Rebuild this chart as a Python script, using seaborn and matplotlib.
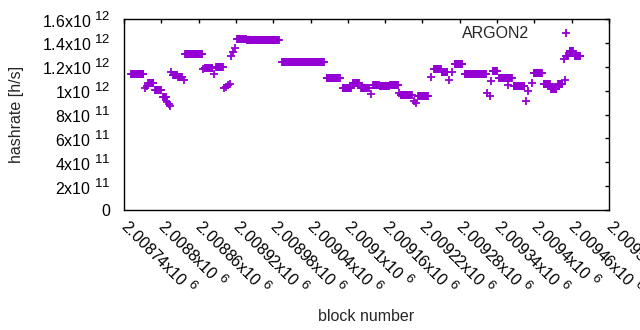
import numpy as np
import pandas as pd
import seaborn as sns
import matplotlib.pyplot as plt
import matplotlib._mathtext as mathtext_internals

# runs of blocks that share one hashrate estimate (start, end, value in h/s)
run_start = [2008752, 2008773, 2008777, 2008779, 2008790, 2008803, 2008809, 2008812,
             2008814, 2008816, 2008819, 2008827, 2008837, 2008838, 2008867, 2008870,
             2008885, 2008888, 2008901, 2008904, 2008907, 2008910, 2008912, 2008915,
             2008919, 2008922, 2008938, 2008994, 2009066, 2009092, 2009108, 2009121,
             2009138, 2009141, 2009152, 2009168, 2009182, 2009185, 2009206, 2009210,
             2009213, 2009234, 2009239, 2009251, 2009263, 2009267, 2009272, 2009288,
             2009324, 2009329, 2009331, 2009333, 2009343, 2009358, 2009367, 2009386,
             2009390, 2009396, 2009399, 2009415, 2009427, 2009438, 2009449, 2009448,
             2009451, 2009457, 2009465]
run_end = [2008771, 2008773, 2008777, 2008787, 2008799, 2008807, 2008809, 2008812,
           2008814, 2008816, 2008825, 2008833, 2008837, 2008866, 2008867, 2008882,
           2008885, 2008899, 2008901, 2008904, 2008907, 2008910, 2008912, 2008915,
           2008919, 2008936, 2008989, 2009061, 2009087, 2009105, 2009118, 2009134,
           2009138, 2009150, 2009166, 2009180, 2009182, 2009203, 2009206, 2009210,
           2009229, 2009234, 2009250, 2009260, 2009263, 2009267, 2009284, 2009322,
           2009324, 2009329, 2009331, 2009340, 2009364, 2009358, 2009384, 2009386,
           2009390, 2009396, 2009412, 2009425, 2009435, 2009445, 2009449, 2009448,
           2009454, 2009462, 2009474]
run_value = [1.140e12, 1.026e12, 1.039e12, 1.060e12, 1.003e12, 0.944e12, 0.905e12, 0.888e12,
             0.871e12, 1.156e12, 1.135e12, 1.110e12, 1.085e12, 1.304e12, 1.177e12, 1.187e12,
             1.139e12, 1.194e12, 1.018e12, 1.030e12, 1.043e12, 1.055e12, 1.290e12, 1.324e12,
             1.357e12, 1.430e12, 1.422e12, 1.237e12, 1.103e12, 1.026e12, 1.064e12, 1.018e12,
             0.970e12, 1.047e12, 1.035e12, 1.051e12, 0.980e12, 0.963e12, 0.909e12, 0.896e12,
             0.958e12, 1.114e12, 1.177e12, 1.156e12, 1.093e12, 1.160e12, 1.220e12, 1.143e12,
             0.984e12, 0.955e12, 1.081e12, 1.162e12, 1.106e12, 1.043e12, 1.035e12, 0.909e12,
             0.993e12, 1.064e12, 1.148e12, 1.056e12, 1.014e12, 1.056e12, 1.089e12, 1.269e12,
             1.286e12, 1.328e12, 1.294e12]

xtick_values = [2008740, 2008800, 2008860, 2008920, 2008980, 2009040, 2009100,
                2009160, 2009220, 2009280, 2009340, 2009400, 2009460, 2009520]
xtick_labels = ["2.00874x10 $^{6}$", "2.0088x10 $^{6}$", "2.00886x10 $^{6}$",
                "2.00892x10 $^{6}$", "2.00898x10 $^{6}$", "2.00904x10 $^{6}$",
                "2.0091x10 $^{6}$", "2.00916x10 $^{6}$", "2.00922x10 $^{6}$",
                "2.00928x10 $^{6}$", "2.00934x10 $^{6}$", "2.0094x10 $^{6}$",
                "2.00946x10 $^{6}$", "2.00952x10 $^{6}$"]
ytick_values = [0, 2e11, 4e11, 6e11, 8e11, 1e12, 1.2e12, 1.4e12, 1.6e12]
ytick_labels = ["0", "2x10 $^{11}$", "4x10 $^{11}$", "6x10 $^{11}$", "8x10 $^{11}$",
                "1x10 $^{12}$", "1.2x10 $^{12}$", "1.4x10 $^{12}$", "1.6x10 $^{12}$"]

rows = []
for s, e, v in zip(run_start, run_end, run_value):
    for b in range(s, e + 1):
        rows.append((b, v))
df = pd.DataFrame(rows, columns=["block", "hashrate"])

# gnuplot-like superscripts (a bit bigger than matplotlib's default)
mathtext_internals.SHRINK_FACTOR = 0.82

sns.set_style("white")
plt.rcParams['font.family'] = ['Liberation Sans', 'DejaVu Sans']
plt.rcParams['mathtext.fontset'] = 'custom'
plt.rcParams['mathtext.rm'] = 'Liberation Sans'
plt.rcParams['mathtext.it'] = 'Liberation Sans:italic'
plt.rcParams['font.size'] = 11.5

fig, ax = plt.subplots(figsize=(6.4, 3.3), dpi=100)
fig.subplots_adjust(left=124/640, right=609/640, bottom=120/330, top=311/330)

sns.scatterplot(data=df, x="block", y="hashrate", marker="+", s=34, color="#9400D3",
                linewidth=1.3, ax=ax, label="ARGON2")

ax.set_xlim(2008740, 2009520)
ax.set_ylim(0, 1.6e12)
ax.set_xticks(xtick_values)
ax.set_xticklabels(xtick_labels, rotation=-45, ha="left", va="center", rotation_mode="anchor")
ax.set_yticks(ytick_values)
ax.set_yticklabels(ytick_labels)
ax.tick_params(direction="in", top=True, right=True, length=3.2, width=1, colors="black",
               labelsize=11.5)
ax.tick_params(axis="y", pad=10)
ax.tick_params(axis="x", pad=9)
for sp in ax.spines.values():
    sp.set_visible(True)
    sp.set_color("black")
    sp.set_linewidth(1)

ax.set_xlabel("block number", fontsize=11.5)
ax.xaxis.set_label_coords(0.5, -0.555)
ax.xaxis.label.set_va("center")
ax.set_ylabel("hashrate [h/s]", fontsize=11.5)
ax.yaxis.set_label_coords(-0.222, 0.5)
ax.yaxis.label.set_va("center")

ax.legend(loc="upper right", bbox_to_anchor=(0.944, 0.965), markerfirst=False, frameon=False,
          handlelength=2, handletextpad=1.3, borderpad=0, borderaxespad=0, fontsize=11.5,
          scatterpoints=1)

plt.savefig("out.png", dpi=100)
